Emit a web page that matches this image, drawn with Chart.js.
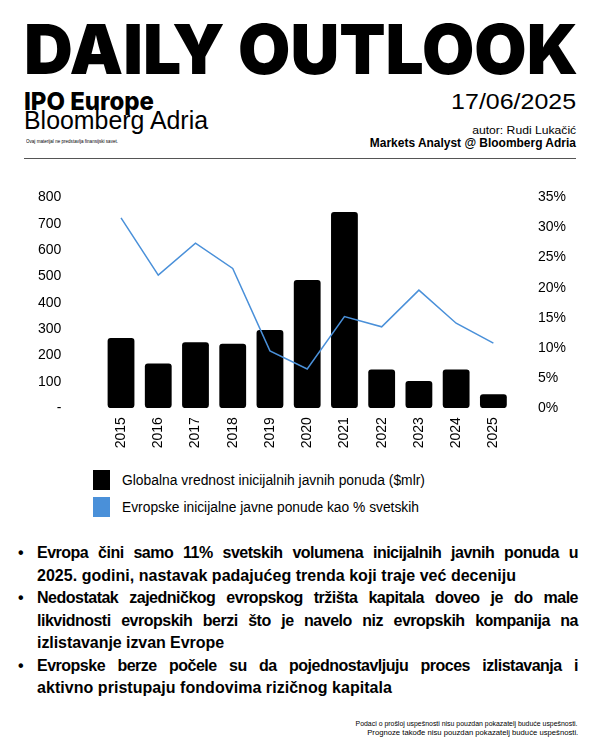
<!DOCTYPE html>
<html>
<head>
<meta charset="utf-8">
<script src="https://cdn.jsdelivr.net/npm/chart.js@4.4.0/dist/chart.umd.min.js"></script>
<style>
  html, body { margin: 0; padding: 0; background: #fff; }
  body { width: 600px; height: 750px; position: relative; overflow: hidden; font-family: "Liberation Sans", Arial, sans-serif; color: #000; }
  .t { position: absolute; white-space: nowrap; line-height: 1; }
  .fit-l { transform-origin: left center; }
  .fit-r { transform-origin: right center; }
  #rule { position: absolute; left: 24px; top: 158px; width: 552px; height: 0; border-top: 1.5px solid #555; }
  #chartBox { position: absolute; left: 0; top: 147.6px; width: 600px; height: 312.4px; }
  .lg-box { position: absolute; left: 93px; width: 17px; height: 20px; }
  .bl { position: absolute; left: 37px; font-weight: bold; font-size: 16px; line-height: 22.5px; letter-spacing: -0.5px; white-space: nowrap; }
  .bl.j { width: 541px; text-align: justify; text-align-last: justify; white-space: normal; }
  .dot { position: absolute; left: 18px; font-weight: bold; font-size: 16px; line-height: 22.5px; }
</style>
</head>
<body>
  <!-- zaglavlje -->
  <div class="t fit-l" data-w="554" style="left:24px; top:15.4px; font-family:Inter, sans-serif; font-weight:900; font-size:69px;">DAILY OUTLOOK</div>
  <div class="t fit-l" data-w="130" style="left:24px; top:88.5px; font-family:Inter, sans-serif; font-weight:800; font-size:25px;">IPO Europe</div>
  <div class="t fit-l" data-w="184" style="left:24px; top:108px; font-size:25px;">Bloomberg Adria</div>
  <div class="t fit-l" data-w="92" style="left:26px; top:138.5px; font-size:5px;">Ovaj materijal ne predstavlja finansijski savet.</div>
  <div class="t fit-r" data-w="125" style="right:24px; top:91.4px; font-size:22px;">17/06/2025</div>
  <div class="t fit-r" data-w="104" style="right:24px; top:124.7px; font-size:11px;">autor: Rudi Lukačić</div>
  <div class="t fit-r" data-w="206" style="right:24px; top:136.5px; font-weight:bold; font-size:12px;">Markets Analyst @ Bloomberg Adria</div>

  <div id="chartBox"><canvas id="ipoChart"></canvas></div>
  <div id="rule"></div>

  <!-- legenda -->
  <div class="lg-box" style="top:470px; background:#000;"></div>
  <div class="lg-box" style="top:497px; background:#4a90d9;"></div>
  <div class="t fit-l" data-w="303" style="left:122px; top:473px; font-size:14px;">Globalna vrednost inicijalnih javnih ponuda ($mlr)</div>
  <div class="t fit-l" data-w="297" style="left:122px; top:500px; font-size:14px;">Evropske inicijalne javne ponude kao % svetskih</div>

  <!-- tekst -->
  <div id="bullets"></div>

  <div class="t fit-r" data-w="222" style="right:22px; top:720px; font-size:7px;">Podaci o prošloj uspešnosti nisu pouzdan pokazatelj buduće uspešnosti.</div>
  <div class="t fit-r" data-w="211" style="right:22px; top:729px; font-size:7px;">Prognoze takođe nisu pouzdan pokazatelj buduće uspešnosti.</div>

<script>
  // podaci
  const years = ['2015', '2016', '2017', '2018', '2019', '2020', '2021', '2022', '2023', '2024', '2025'];
  const globalIpoValue = [266, 169, 250, 244, 297, 486, 745, 147, 103, 147, 53];
  const europeShare = [31.6, 22.1, 27.4, 23.2, 9.5, 6.5, 15.2, 13.5, 19.6, 14.1, 10.8];
  const leftTicks = [0, 100, 200, 300, 400, 500, 600, 700, 800];
  const rightTicks = [0, 5, 10, 15, 20, 25, 30, 35];

  const barLabel = 'Globalna vrednost inicijalnih javnih ponuda ($mlr)';
  const lineLabel = 'Evropske inicijalne javne ponude kao % svetskih';

  // redovi teksta: [tekst, poravnat, novi bullet, sirina kraja reda]
  const bulletLines = [
    ['Evropa čini samo 11% svetskih volumena inicijalnih javnih ponuda u', true, true, 0],
    ['2025. godini, nastavak padajućeg trenda koji traje već deceniju', false, false, 479],
    ['Nedostatak zajedničkog evropskog tržišta kapitala doveo je do male', true, true, 0],
    ['likvidnosti evropskih berzi što je navelo niz evropskih kompanija na', true, false, 0],
    ['izlistavanje izvan Evrope', false, false, 187],
    ['Evropske berze počele su da pojednostavljuju proces izlistavanja i', true, true, 0],
    ['aktivno pristupaju fondovima rizičnog kapitala', false, false, 355]
  ];

  const bulletsEl = document.getElementById('bullets');
  const leftRows = [];
  bulletLines.forEach((line, i) => {
    const top = 542.2 + i * 22.5;
    if (line[2]) {
      const dot = document.createElement('div');
      dot.className = 'dot';
      dot.style.top = top + 'px';
      dot.textContent = '•';
      bulletsEl.appendChild(dot);
    }
    const row = document.createElement('div');
    row.className = 'bl' + (line[1] ? ' j' : '');
    row.style.top = top + 'px';
    row.textContent = line[0];
    bulletsEl.appendChild(row);
    if (!line[1]) leftRows.push([row, line[3], line[0].length]);
  });

  function fitTexts() {
    document.querySelectorAll('[data-w]').forEach(el => {
      el.style.transform = '';
      const w = el.getBoundingClientRect().width;
      const target = parseFloat(el.dataset.w);
      if (w > 0) el.style.transform = 'scaleX(' + (target / w) + ')';
    });
    // neporavnati redovi: razmak slova da kraj reda padne kao u originalu
    leftRows.forEach(([row, target, n]) => {
      row.style.letterSpacing = '-0.5px';
      const w = row.getBoundingClientRect().width;
      row.style.letterSpacing = (-0.5 + (target - w) / n) + 'px';
    });
  }

  const tickFont = { family: '"Liberation Sans", Arial, sans-serif', size: 14 };

  new Chart(document.getElementById('ipoChart'), {
    type: 'bar',
    data: {
      labels: years,
      datasets: [
        {
          type: 'line',
          label: lineLabel,
          data: europeShare,
          yAxisID: 'y1',
          borderColor: '#4a90d9',
          borderWidth: 1.5,
          pointRadius: 0,
          tension: 0,
          order: 0
        },
        {
          type: 'bar',
          label: barLabel,
          data: globalIpoValue,
          yAxisID: 'y',
          backgroundColor: '#000',
          borderRadius: 3,
          borderSkipped: false,
          categoryPercentage: 1,
          barPercentage: 0.72,
          order: 1
        }
      ]
    },
    options: {
      responsive: true,
      maintainAspectRatio: false,
      animation: false,
      layout: { padding: { top: 17, left: 0, right: 0, bottom: 0 } },
      plugins: {
        legend: { display: false },
        tooltip: { enabled: false }
      },
      scales: {
        x: {
          grid: { display: false, drawTicks: false },
          border: { display: false },
          ticks: { color: '#000', font: tickFont, minRotation: 90, maxRotation: 90, padding: 9 },
          afterFit: function(scale) { scale.height = 52.3; }
        },
        y: {
          position: 'left',
          min: 0,
          max: 800,
          grid: { display: false, drawTicks: false },
          border: { display: false },
          afterBuildTicks: function(scale) { scale.ticks = leftTicks.map(v => ({ value: v })); },
          ticks: {
            color: '#000',
            font: tickFont,
            padding: 41,
            callback: function(value) { return value === 0 ? '-' : value; }
          },
          afterFit: function(scale) { scale.width = 102.4; }
        },
        y1: {
          position: 'right',
          min: 0,
          max: 35,
          grid: { display: false, drawTicks: false },
          border: { display: false },
          afterBuildTicks: function(scale) { scale.ticks = rightTicks.map(v => ({ value: v })); },
          ticks: {
            color: '#000',
            font: tickFont,
            padding: 26,
            callback: function(value) { return value + '%'; }
          },
          afterFit: function(scale) { scale.width = 88; }
        }
      }
    }
  });

  fitTexts();
  if (document.fonts && document.fonts.ready) document.fonts.ready.then(fitTexts);
</script>
</body>
</html>
